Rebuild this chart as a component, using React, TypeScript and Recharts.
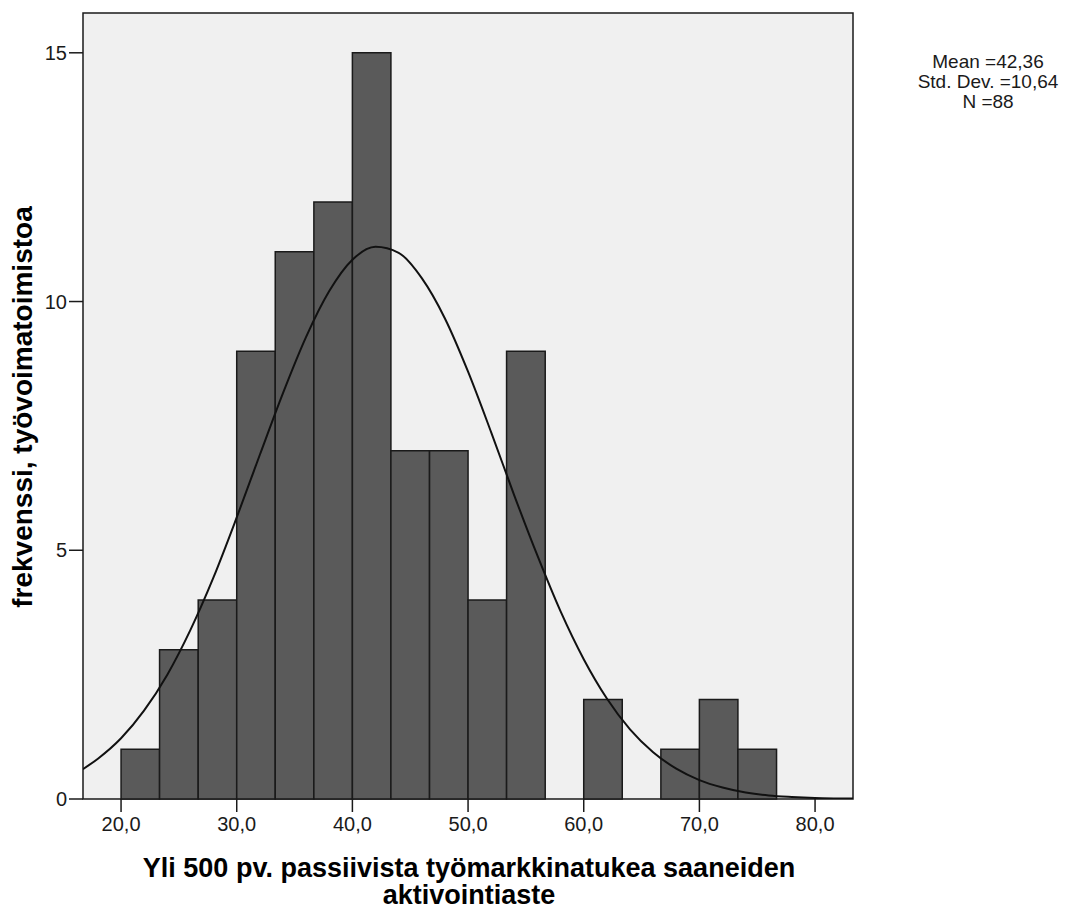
import React from 'react';
import {
  ComposedChart,
  Line,
  XAxis,
  YAxis,
  ReferenceArea
} from 'recharts';

// histogram bins (left edge, right edge, count)
const binStarts = [20, 23.33, 26.67, 30, 33.33, 36.67, 40, 43.33, 46.67, 50, 53.33, 56.67, 60, 63.33, 66.67, 70, 73.33];
const binEnds = [23.33, 26.67, 30, 33.33, 36.67, 40, 43.33, 46.67, 50, 53.33, 56.67, 60, 63.33, 66.67, 70, 73.33, 76.67];
const binCounts = [1, 3, 4, 9, 11, 12, 15, 7, 7, 4, 9, 0, 2, 0, 1, 2, 1];

// normal curve
const curveX = [16.7, 18, 20, 22, 24, 26, 28, 30, 32, 34, 36, 38, 40, 42, 44, 46, 48, 50, 52, 54, 56, 58, 60, 62, 64, 66, 68, 70, 72, 74, 76, 78, 80, 82, 83.3];
const curveY = [0.6, 0.81, 1.22, 1.78, 2.5, 3.4, 4.46, 5.66, 6.92, 8.16, 9.29, 10.21, 10.84, 11.1, 10.98, 10.47, 9.66, 8.59, 7.37, 6.1, 4.89, 3.77, 2.81, 2.02, 1.4, 0.94, 0.61, 0.38, 0.23, 0.13, 0.07, 0.04, 0.02, 0.01, 0.01];

const xTicks = [20, 30, 40, 50, 60, 70, 80];
const yTicks = [0, 5, 10, 15];
const statsLines = ['Mean =42,36', 'Std. Dev. =10,64', 'N =88'];

const X_MIN = 16.71;
const X_MAX = 83.28;
const Y_MAX = 15.8;

const font = '"Liberation Sans", Arial, sans-serif';
const ink = '#1a1a1a';

export default function App() {
  const curve = curveX.map((x, i) => ({ x, y: curveY[i] }));

  return (
    <div style={{ position: 'relative', width: 1060, height: 899, fontFamily: font }}>
      <ComposedChart
        width={1060}
        height={899}
        data={curve}
        margin={{ top: 5, right: 215, left: 0, bottom: 48 }}
      >
        <XAxis
          dataKey="x"
          type="number"
          domain={[X_MIN, X_MAX]}
          ticks={xTicks}
          allowDataOverflow
          tickFormatter={(v: number) => v.toFixed(1).replace('.', ',')}
          tick={{ fill: ink, fontSize: 20, fontFamily: font }}
          tickSize={13}
          tickMargin={5}
          tickLine={{ stroke: ink, strokeWidth: 1.5 }}
          axisLine={false}
          height={60}
        />
        <YAxis
          type="number"
          domain={[0, Y_MAX]}
          ticks={yTicks}
          allowDataOverflow
          tick={{ fill: ink, fontSize: 20, fontFamily: font }}
          tickSize={14}
          tickMargin={2}
          tickLine={{ stroke: ink, strokeWidth: 1.5 }}
          axisLine={false}
          width={75}
        />
        <ReferenceArea
          x1={X_MIN}
          x2={X_MAX}
          y1={0}
          y2={Y_MAX}
          fill="#f0f0f0"
          fillOpacity={1}
          stroke={ink}
          strokeWidth={1.5}
        />
        {binCounts.map((c, i) =>
          c > 0 ? (
            <ReferenceArea
              key={i}
              x1={binStarts[i]}
              x2={binEnds[i]}
              y1={0}
              y2={c}
              fill="#5a5a5a"
              fillOpacity={1}
              stroke={ink}
              strokeWidth={1.5}
            />
          ) : null
        )}
        <Line
          type="monotone"
          dataKey="y"
          stroke="#111"
          strokeWidth={2}
          dot={false}
          activeDot={false}
          isAnimationActive={false}
        />
      </ComposedChart>

      <div
        style={{
          position: 'absolute',
          left: 15 - 250,
          top: 398.5 - 14,
          width: 500,
          height: 28,
          lineHeight: '28px',
          fontSize: 28,
          fontWeight: 'bold',
          textAlign: 'center',
          color: '#000',
          transform: 'rotate(-90deg)',
          whiteSpace: 'nowrap'
        }}
      >
        frekvenssi, työvoimatoimistoa
      </div>

      <div
        style={{
          position: 'absolute',
          left: 461 - 450,
          top: 847,
          width: 900,
          fontSize: 27,
          lineHeight: '27px',
          fontWeight: 'bold',
          textAlign: 'center',
          color: '#000'
        }}
      >
        Yli 500 pv. passiivista työmarkkinatukea saaneiden
        <br />
        aktivointiaste
      </div>

      <div
        style={{
          position: 'absolute',
          left: 980 - 100,
          top: 44,
          width: 200,
          fontSize: 19,
          lineHeight: '20px',
          textAlign: 'center',
          color: ink
        }}
      >
        {statsLines.map((s) => (
          <div key={s}>{s}</div>
        ))}
      </div>
    </div>
  );
}
